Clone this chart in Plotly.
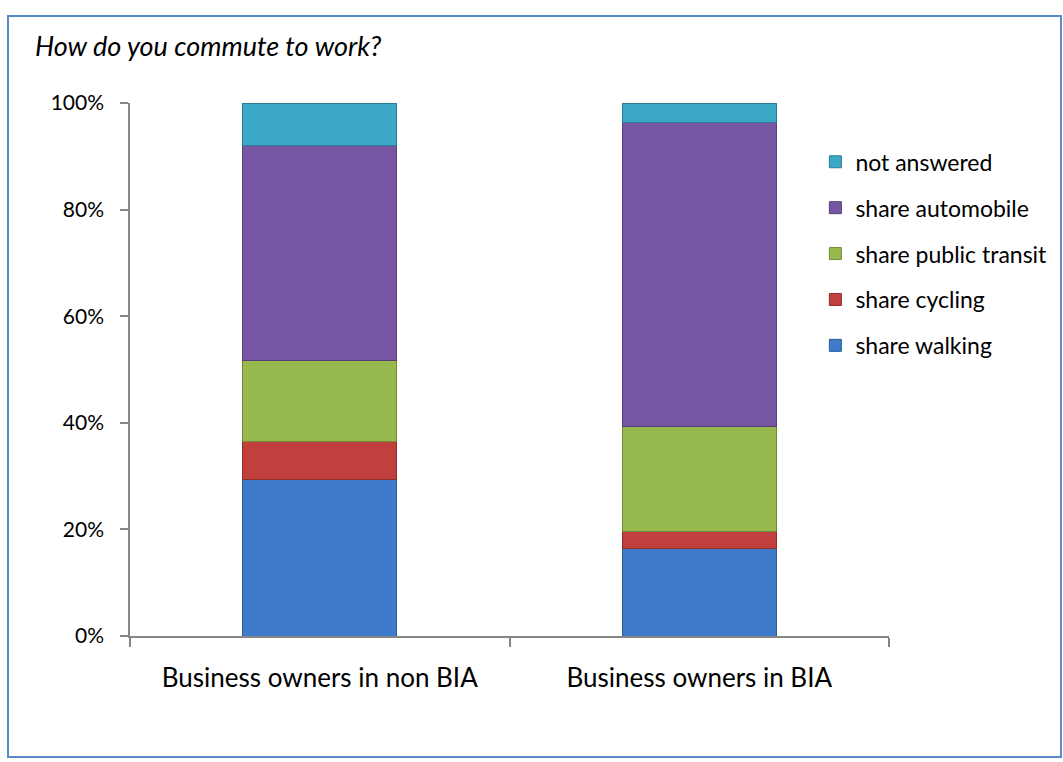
import plotly.graph_objects as go

# Survey groups and commute-mode shares (percent of respondents)
groups = ["Business owners in non BIA", "Business owners in BIA"]
share_walking = [29.3, 16.5]
share_cycling = [7.2, 3.1]
share_public_transit = [15.1, 19.8]
share_automobile = [40.5, 57.0]
not_answered = [7.9, 3.6]

series = [
    ("share walking", share_walking, "#3E7BCB", "#2D5C99"),
    ("share cycling", share_cycling, "#C1403D", "#8E2D2B"),
    ("share public transit", share_public_transit, "#97B94E", "#6F8A37"),
    ("share automobile", share_automobile, "#7655A3", "#57407A"),
    ("not answered", not_answered, "#3BA8C7", "#2B7D95"),
]

FONT = "Lato, 'Open Sans', sans-serif"

fig = go.Figure()
for i, (name, vals, col, edge) in enumerate(series):
    fig.add_trace(go.Bar(
        x=groups, y=vals, name=name,
        marker=dict(color=col, line=dict(color=edge, width=1)),
        width=0.405,
        legendgroup=f"g{i}",
        legendrank=1000 - i,   # topmost segment listed first
    ))

fig.update_layout(
    barmode="stack",
    width=1063, height=762,
    margin=dict(l=130, r=174, t=103, b=126, autoexpand=False),
    paper_bgcolor="white",
    plot_bgcolor="white",
    font=dict(family=FONT, color="#000000", size=21),
    title=dict(
        text="<i>How do you commute to work?</i>",
        xref="container", yref="container",
        x=35 / 1063, y=1 - 47 / 762,
        xanchor="left", yanchor="middle",
        font=dict(family=FONT, size=27, color="#000000"),
    ),
    legend=dict(
        x=0.903, y=0.93, xanchor="left", yanchor="top",
        tracegroupgap=13,
        font=dict(family=FONT, size=23),
        itemwidth=30,
        bgcolor="rgba(0,0,0,0)",
    ),
    showlegend=True,
    yaxis=dict(
        range=[0, 100],
        tickvals=[0, 20, 40, 60, 80, 100],
        ticktext=["0%", "20%", "40%", "60%", "80%", "100%"],
        ticks="outside", ticklen=8, tickcolor="#868686", tickwidth=1.5,
        showline=True, linecolor="#868686", linewidth=1.5,
        showgrid=False, zeroline=False,
        ticklabelstandoff=12,
        tickfont=dict(family=FONT, size=21),
        fixedrange=True,
    ),
    xaxis=dict(
        ticks="outside", ticklen=9, tickcolor="#868686", tickwidth=1.5,
        tickson="boundaries",
        showline=True, linecolor="#868686", linewidth=1.5,
        showgrid=False,
        ticklabelstandoff=18,
        tickfont=dict(family=FONT, size=26),
        fixedrange=True,
    ),
    shapes=[
        # outer chart frame
        dict(
            type="rect", xref="paper", yref="paper",
            x0=(8 - 130) / 759, x1=(1061 - 130) / 759,
            y0=(636 - 757) / 533, y1=(636 - 16) / 533,
            line=dict(color="#5A8AC6", width=2),
            fillcolor="rgba(0,0,0,0)",
            layer="below",
        )
    ],
)

fig.write_html("out.html")
